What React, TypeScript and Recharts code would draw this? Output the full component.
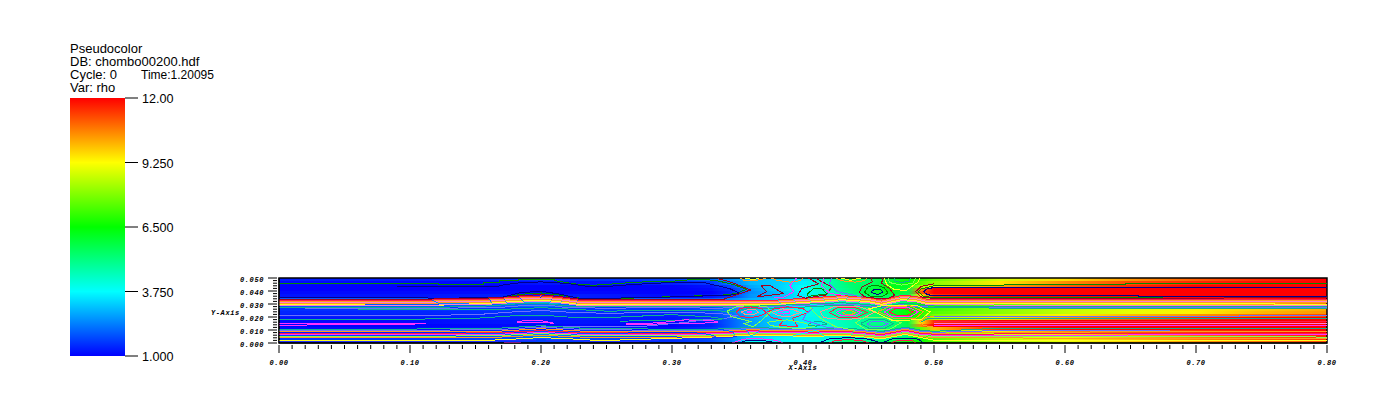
import React from "react";
import { Area, ComposedChart, Line, ReferenceArea, XAxis, YAxis } from "recharts";

type Pt = [number, number];

// ---- field: rho per band (top to bottom) at the columns in rhoX
const rhoX = [0, .1, .17, .2, .23, .3, .33, .345, .36, .38, .4, .42, .435, .45, .465, .48, .49, .5, .55, .6, .65, .7, .75, .8];
const bandEdges = [.05, .0475, .045, .0425, .04, .0375, .035, .0325, .03, .0275, .025, .0225, .02, .0175, .015, .0125, .01, .0075, .005, .0025, 0];
const rho00 = [1.3, 1.3, 1.4, 1.5, 1.5, 1.7, 2.1, 2.6, 3, 3.2, 3.5, 4.6, 5.6, 5.5, 5.8, 6.6, 7, 7.6, 8.8, 9.6, 10.4, 11, 11.6, 12];
const rho01 = [1.1, 1.1, 1.1, 1.2, 1.2, 1.3, 1.6, 2.3, 3, 3.2, 3.6, 4.6, 5.3, 5.4, 6, 6.5, 7.4, 8, 9.5, 10.5, 11.2, 11.6, 11.9, 12];
const rho02 = [1, 1, 1, 1, 1, 1, 1.2, 1.8, 2.8, 3.2, 3.8, 4.7, 5.2, 5.6, 6.3, 6.1, 8.2, 9, 10.2, 11, 11.6, 12, 12, 12];
const rho03 = [1, 1, 1, 1, 1, 1, 1.1, 1.5, 2.6, 3.2, 3.8, 4.6, 5.1, 5.8, 6.4, 5.8, 10.5, 12, 12, 12, 12, 12, 12, 12];
const rho04 = [1.1, 1.1, 1.1, 1, 1.1, 1, 1, 1.4, 2.5, 3, 3.7, 4.4, 5, 5.8, 6.2, 5.7, 11, 12, 12, 12, 12, 12, 12, 12];
const rho05 = [1.2, 1.2, 1.3, 1.3, 1.3, 1.1, 1.2, 1.6, 2.6, 3, 3.6, 4.4, 4.8, 5.4, 5.6, 5.6, 9.5, 11.5, 12, 12, 12, 12, 12, 12];
const rho06 = [2, 2, 2.1, 2.4, 2.1, 2, 2, 2.4, 2.9, 3.2, 3.6, 4.4, 4.5, 5, 5, 5.4, 7, 9.5, 10.5, 11, 11.5, 11.5, 11.8, 12];
const rho07 = [2.4, 2.4, 2.5, 3, 2.5, 2.4, 2.5, 2.8, 3.2, 3.4, 3.8, 4.3, 4.6, 4.8, 4.9, 5.4, 6.6, 7.5, 8, 8.5, 9, 9.5, 10, 10.6];
const rho08 = [1.9, 2, 2, 2.2, 2.1, 2, 2.2, 2.6, 3, 3.3, 3.7, 4.3, 4.6, 4.8, 5, 5.6, 6.5, 7, 7.6, 8.4, 9, 9.6, 10, 10.6];
const rho09 = [1.5, 1.5, 1.6, 1.7, 1.6, 1.5, 1.8, 2.4, 3, 3.4, 3.8, 4.4, 5, 5.2, 5.6, 6.4, 6.8, 7.2, 8, 8.6, 9, 9.4, 9.8, 10.2];
const rho10 = [1.4, 1.4, 1.5, 1.6, 1.5, 1.4, 1.7, 2.3, 3.2, 3.5, 3.8, 4.5, 5.2, 5.3, 5.8, 6.6, 6.9, 7.4, 8, 8.6, 9, 9.4, 10, 10.4];
const rho11 = [1.3, 1.3, 1.4, 1.5, 1.4, 1.3, 1.6, 2.2, 3, 3.3, 3.7, 4.4, 5, 5.1, 5.6, 6.5, 6.9, 7.8, 8.6, 9.4, 10, 10.4, 10.8, 11.2];
const rho12 = [1.2, 1.2, 1.3, 1.3, 1.3, 1.2, 1.5, 2.1, 2.8, 3.2, 3.6, 4.2, 4.7, 4.9, 5.3, 6.1, 7.2, 8.4, 9.6, 10.4, 11, 11.6, 12, 12];
const rho13 = [1.1, 1.1, 1.2, 1.2, 1.2, 1.1, 1.4, 2, 2.7, 3.2, 3.6, 4.2, 4.6, 5, 5, 5.8, 9.5, 11.5, 12, 12, 12, 12, 12, 12];
const rho14 = [1, 1, 1.1, 1.1, 1.1, 1, 1.3, 2, 2.7, 3.2, 3.6, 4.2, 4.6, 5.1, 5.1, 5.7, 10.5, 12, 12, 12, 12, 12, 12, 12];
const rho15 = [1.1, 1.1, 1.2, 1.3, 1.2, 1.1, 1.5, 2.1, 2.8, 3.3, 3.7, 4.2, 4.5, 4.9, 5.2, 5.7, 7.5, 10, 11.6, 12, 12, 12, 12, 12];
const rho16 = [1.3, 1.3, 1.5, 1.9, 1.6, 1.4, 1.7, 2.3, 2.9, 3.3, 3.7, 4.2, 4.5, 4.7, 5, 5.6, 6.8, 8, 9.4, 10.4, 11, 11.4, 11.7, 12];
const rho17 = [1.7, 1.7, 2, 2.4, 2, 1.8, 2, 2.6, 3.1, 3.4, 3.7, 4.1, 4.3, 4.4, 4.8, 5.2, 6.4, 7.6, 8.8, 9.6, 10.2, 10.8, 11.2, 11.6];
const rho18 = [1.6, 1.6, 1.8, 2, 1.8, 1.6, 1.9, 2.5, 3.3, 3.6, 3.9, 4.1, 4.6, 4.5, 5, 5.6, 6.4, 7.4, 8.6, 9.4, 10, 10.6, 11, 11.4];
const rho19 = [1.3, 1.3, 1.5, 1.7, 1.6, 1.5, 1.8, 2.4, 3.8, 3.6, 3.8, 4.2, 5.4, 5, 5.6, 6.6, 6.6, 7.2, 8.2, 9, 9.8, 10.4, 10.8, 11.2];
const rhoBands = [rho00, rho01, rho02, rho03, rho04, rho05, rho06, rho07, rho08, rho09, rho10, rho11, rho12, rho13, rho14, rho15, rho16, rho17, rho18, rho19];

// ---- contour levels, [x, y]
const greenTop: Pt[] = [[0, .0457], [.122, .0457], [.122, .0449], [.156, .0449], [.156, .0464], [.168, .0464], [.168, .048], [.183, .048], [.183, .0492], [.197, .0492], [.21, .0488], [.21, .048], [.225, .0455], [.24, .0444], [.26, .0458], [.272, .0468], [.3, .0475], [.32, .0492], [.334, .048], [.347, .0449], [.357, .0414], [.349, .0381], [.338, .0368], [.296, .0355], [.245, .0337], [.23, .0345], [.215, .0368], [.2, .0385], [.185, .0375], [.17, .0345], [.105, .0337]];
const navyTop: Pt[] = [[.09, .0431], [.165, .0431], [.17, .0445], [.185, .0465], [.2, .047], [.22, .0458], [.235, .0436], [.245, .0431], [.27, .045], [.296, .0464], [.325, .0464], [.344, .0418], [.352, .0381], [.344, .0368], [.296, .0353], [.245, .0343], [.228, .0345], [.215, .0375], [.2, .0398], [.185, .0388], [.17, .0352], [.12, .0343], [.1, .0353], [0, .0353]];
const darkRedTop: Pt[] = [[0, .0336], [.105, .0336], [.17, .0348], [.185, .0365], [.2, .0372], [.215, .0356], [.23, .0336], [.296, .0338], [.34, .0338], [.36, .0408], [.345, .0468], [.335, .0495]];
const bundle1: Pt[] = [[0, .0328], [.1, .0328], [.16, .0338], [.18, .0352], [.2, .0362], [.215, .0348], [.23, .0328], [.3, .0328], [.34, .0326], [.38, .033], [.41, .035], [.43, .0365], [.45, .035], [.46, .033], [.475, .0365], [.485, .036], [.495, .0335], [.55, .0338], [.8, .0338]];
const bundle2: Pt[] = [[0, .032], [.1, .032], [.16, .033], [.18, .0344], [.2, .0354], [.215, .034], [.23, .032], [.3, .032], [.34, .0318], [.38, .0322], [.41, .0342], [.43, .0357], [.45, .0342], [.46, .0322], [.475, .0357], [.485, .0352], [.495, .0327], [.55, .033], [.667, .033], [.667, .0325], [.8, .0325]];
const bundle3: Pt[] = [[0, .0312], [.1, .0312], [.16, .0322], [.18, .0336], [.2, .0346], [.215, .0332], [.23, .0312], [.3, .0312], [.34, .031], [.38, .0314], [.41, .0334], [.43, .0349], [.45, .0334], [.46, .0314], [.475, .0349], [.485, .0344], [.495, .0319], [.55, .0318], [.8, .0318]];
const bundle4: Pt[] = [[0, .0304], [.1, .0304], [.16, .0314], [.18, .0328], [.2, .0338], [.215, .0324], [.23, .0304], [.3, .0304], [.34, .0302], [.38, .0306], [.41, .0326], [.43, .0341], [.45, .0326], [.46, .0306], [.475, .0341], [.485, .0336], [.495, .0311], [.55, .0312], [.8, .0312]];
const bundle5: Pt[] = [[0, .0297], [.065, .0297], [.065, .0292], [.125, .0292], [.16, .0306], [.18, .032], [.2, .033], [.215, .0316], [.23, .0296], [.3, .0296], [.34, .0294], [.38, .0298], [.41, .0318], [.43, .0333], [.45, .0318], [.46, .0298], [.475, .0333], [.485, .0328], [.495, .0303], [.55, .0302], [.76, .0302], [.76, .0296], [.8, .0296]];
const bundle6: Pt[] = [[0, .0288], [.095, .0288], [.16, .0298], [.18, .0312], [.2, .0322], [.215, .0308], [.23, .0288], [.3, .0288], [.34, .0286], [.38, .029], [.41, .031], [.43, .0325], [.45, .031], [.46, .029], [.475, .0325], [.485, .032], [.495, .0295], [.55, .0292], [.8, .0292]];
const teal1: Pt[] = [[0, .0274], [.12, .0274], [.16, .0285], [.18, .03], [.2, .0306], [.22, .0285], [.24, .028], [.3, .0282], [.34, .028], [.37, .0285], [.41, .0302], [.43, .031], [.45, .0295], [.46, .0278], [.475, .0305], [.485, .03], [.495, .0285], [.55, .028], [.8, .0282]];
const peri1: Pt[] = [[.02, .0268], [.13, .0268], [.17, .0275], [.19, .029], [.205, .0292], [.22, .0272], [.25, .0268], [.3, .0272], [.33, .0268], [.36, .0272], [.41, .0292], [.43, .03], [.45, .0286], [.46, .0272], [.475, .0295], [.49, .0278], [.52, .0272], [.8, .0272]];
const teal2: Pt[] = [[.06, .0255], [.145, .0255], [.18, .0262], [.2, .0272], [.22, .0262], [.25, .0245], [.3, .0252], [.335, .0248], [.345, .024], [.36, .0268], [.39, .027], [.41, .0282], [.43, .029], [.45, .0278], [.465, .0265], [.475, .0285], [.49, .027], [.612, .0268], [.612, .0262], [.8, .0262]];
const peri2: Pt[] = [[0, .0211], [.1, .0211], [.15, .0218], [.18, .024], [.2, .025], [.22, .0238], [.25, .0228], [.3, .0238], [.335, .0228], [.35, .021], [.34, .0188]];
const teal3: Pt[] = [[0, .0183], [.1, .0183], [.15, .019], [.18, .021], [.2, .0215], [.22, .02], [.25, .0195], [.3, .0218], [.33, .02], [.34, .0185], [.3, .0175], [.26, .0168]];
const pinkLeftA: Pt[] = [[0, .0153], [.09, .0153], [.09, .0148], [.112, .0148], [.09, .0143], [.0, .0137]];
const pinkLeftB: Pt[] = [[.182, .0165], [.19, .0175], [.2, .0172], [.21, .0152], [.2, .0158], [.182, .0158], [.182, .0165]];
const pinkLeftC: Pt[] = [[.265, .0148], [.29, .0155], [.31, .0178], [.335, .0168], [.335, .0155], [.31, .0152], [.285, .0145], [.265, .0145]];
const periLeft: Pt[] = [[.2, .0125], [.24, .0125], [.28, .013], [.31, .0158], [.33, .0185]];
const bottomA: Pt[] = [[0, .0107], [.1, .0107], [.17, .0115], [.2, .0133], [.23, .0115], [.3, .0105], [.34, .0108], [.36, .012], [.39, .011], [.41, .0108], [.43, .0115], [.445, .0105], [.46, .0088], [.478, .0122], [.49, .0098], [.5, .009], [.55, .0114], [.638, .0114], [.638, .0108], [.8, .0108]];
const bottomB: Pt[] = [[0, .0096], [.1, .0096], [.17, .0105], [.2, .0122], [.23, .0105], [.3, .0096], [.34, .01], [.36, .0112], [.39, .0102], [.41, .01], [.43, .0106], [.445, .0096], [.46, .008], [.478, .0114], [.49, .009], [.5, .0082], [.55, .0096], [.68, .0096], [.68, .0092], [.8, .0092]];
const bottomC: Pt[] = [[0, .0085], [.095, .0085], [.17, .0092], [.2, .011], [.23, .0092], [.3, .0085], [.34, .009], [.36, .0102], [.39, .0094], [.41, .0092], [.43, .0098], [.445, .0088], [.46, .0072], [.478, .0106], [.49, .0082], [.5, .0076], [.68, .0089], [.8, .0086]];
const bottomD: Pt[] = [[0, .0072], [.1, .0072], [.17, .008], [.2, .0095], [.23, .008], [.3, .0074], [.34, .008], [.36, .0094], [.39, .0086], [.41, .0084], [.43, .009], [.445, .008], [.46, .0064], [.478, .0098], [.49, .0074], [.5, .0068], [.8, .0076]];
const bottomE: Pt[] = [[0, .0062], [.12, .0062], [.17, .0068], [.2, .0082], [.23, .0068], [.3, .0064], [.34, .0072], [.36, .0086], [.39, .0078], [.41, .0076], [.43, .0082], [.445, .0072], [.46, .0056], [.478, .009], [.49, .0066], [.5, .006], [.8, .0063]];
const bottomF: Pt[] = [[0, .0052], [.12, .0052], [.17, .0058], [.2, .0072], [.23, .0058], [.3, .0054], [.34, .0064], [.36, .0078], [.39, .007], [.41, .0068], [.43, .0074], [.445, .0064], [.46, .0048], [.478, .0082], [.49, .0058], [.5, .005], [.8, .0046]];
const bottomG: Pt[] = [[0, .004], [.14, .004], [.17, .0046], [.2, .006], [.23, .0046], [.3, .0045], [.34, .0056], [.36, .007], [.39, .0062], [.41, .006], [.43, .0066], [.445, .0056], [.46, .004], [.478, .0074], [.49, .005], [.5, .004], [.8, .0033]];
const bottomH: Pt[] = [[0, .0023], [.14, .0023], [.14, .0018], [.17, .0024], [.2, .0042], [.23, .0028], [.245, .0018], [.3, .0036], [.34, .0048], [.36, .0062], [.39, .0054], [.41, .0052], [.43, .0058], [.445, .0048], [.46, .0032], [.478, .0066], [.49, .0042], [.5, .0022], [.8, .0018]];
const magentaLow: Pt[] = [[.172, .0004], [.185, .0004]];
const blueLow: Pt[] = [[0, .0008], [.14, .0008], [.2, .0024], [.26, .0008], [.3, .0028], [.335, .004], [.35, .0048]];

const rightPeri: Pt[] = [[.495, .0203], [.733, .0203], [.733, .0211], [.8, .0211]];
const rightTeal: Pt[] = [[.492, .0205], [.49, .016], [.495, .0185], [.8, .0185]];
const rightRed: Pt[] = [[.5, .0165], [.8, .0165]];
const rightPink: Pt[] = [[.5, .015], [.8, .015]];
const rightMagenta: Pt[] = [[.5, .0135], [.8, .0135]];
const rightNavy: Pt[] = [[.8, .0426], [.5, .0426], [.495, .0418], [.492, .0395], [.495, .0372], [.5, .0363], [.656, .0363], [.656, .0355], [.8, .0355]];
const rightGreen: Pt[] = [[.8, .0457], [.646, .0457], [.646, .0449], [.52, .0445], [.5, .044], [.49, .0415], [.488, .0395], [.492, .036], [.5, .0348], [.675, .0348]];
const rightDarkRed: Pt[] = [[.5, .0455], [.49, .0435], [.486, .0395], [.49, .0355], [.5, .0342], [.675, .0345], [.8, .0348]];
const rightLoopLow: Pt[] = [[.5, .0205], [.492, .019], [.489, .0165], [.492, .0135], [.5, .0122]];

const blobRed1: Pt[] = [[.349, .0235], [.352, .0265], [.36, .0278], [.368, .0265], [.372, .0235], [.368, .021], [.36, .0195], [.352, .0205], [.349, .0235]];
const blobPink1: Pt[] = [[.353, .0238], [.358, .0258], [.364, .0255], [.366, .0235], [.362, .0218], [.356, .0218], [.353, .0238]];
const blobMag1: Pt[] = [[.357, .0238], [.36, .0242], [.361, .0238], [.359, .0232], [.357, .0238]];
const blobLime1: Pt[] = [[.342, .0245], [.35, .0282], [.362, .0288], [.372, .028], [.376, .0245], [.368, .017], [.362, .0125], [.355, .015], [.36, .0165], [.345, .0205], [.342, .0245]];
const blobRed2: Pt[] = [[.372, .0235], [.378, .0262], [.388, .0278], [.4, .0265], [.404, .0235], [.392, .019], [.396, .0125], [.382, .0135], [.385, .0175], [.376, .0195], [.372, .0235]];
const blobPink2: Pt[] = [[.376, .0235], [.384, .0262], [.392, .0258], [.398, .0235], [.39, .0205], [.382, .0208], [.376, .0235]];
const blobMag2: Pt[] = [[.381, .0235], [.386, .025], [.39, .0245], [.39, .023], [.385, .0222], [.381, .0235]];
const blobTeal3: Pt[] = [[.373, .016], [.38, .017], [.388, .0178], [.4, .0155], [.41, .0128], [.4, .0112], [.385, .0118], [.375, .0135], [.373, .016]];
const blobPeri3: Pt[] = [[.405, .0152], [.41, .0165], [.416, .016], [.418, .0145], [.41, .013], [.404, .0138], [.405, .0152]];
const blobOrange4: Pt[] = [[.43, .0232], [.433, .0248], [.437, .0248], [.44, .0232], [.437, .022], [.433, .022], [.43, .0232]];
const blobMag4: Pt[] = [[.425, .0235], [.43, .026], [.438, .026], [.444, .0235], [.44, .0212], [.43, .0208], [.425, .0235]];
const blobRed4: Pt[] = [[.42, .0235], [.426, .027], [.44, .0272], [.449, .0235], [.442, .02], [.428, .0195], [.42, .0235]];
const blobSalmon4: Pt[] = [[.413, .024], [.424, .028], [.442, .0282], [.455, .024], [.446, .019], [.43, .018], [.416, .0195], [.413, .024]];
const blobPeri5: Pt[] = [[.449, .0148], [.453, .0168], [.46, .0168], [.465, .0148], [.46, .0125], [.453, .0125], [.449, .0148]];
const blobTeal5: Pt[] = [[.444, .015], [.45, .018], [.462, .018], [.469, .015], [.463, .0115], [.45, .0115], [.444, .015]];
const blobLime5: Pt[] = [[.44, .0155], [.446, .0195], [.464, .0195], [.475, .0155], [.466, .0105], [.448, .0105], [.44, .0155]];
const blobRed6: Pt[] = [[.466, .0238], [.47, .0262], [.478, .0265], [.484, .024], [.48, .0212], [.472, .021], [.466, .0238]];
const blobMag6: Pt[] = [[.462, .024], [.468, .0272], [.48, .0275], [.488, .024], [.482, .0202], [.468, .02], [.462, .024]];
const blobOrange6: Pt[] = [[.457, .024], [.466, .0282], [.482, .0285], [.492, .024], [.486, .019], [.47, .0188], [.457, .024]];
const blobLime6: Pt[] = [[.45, .0262], [.462, .029], [.486, .0292], [.497, .024], [.49, .0178], [.468, .0175], [.45, .0262]];
const navyF: Pt[] = [[.452, .0395], [.455, .0415], [.459, .0415], [.461, .0395], [.458, .0375], [.454, .0378], [.452, .0395]];
const greenF: Pt[] = [[.447, .039], [.45, .0435], [.456, .0445], [.462, .0425], [.465, .0385], [.46, .0355], [.452, .0355], [.447, .039]];
const darkRedF: Pt[] = [[.452, .05], [.453, .047], [.445, .043], [.443, .039], [.447, .0355], [.455, .0345], [.464, .034], [.47, .0365], [.466, .042], [.46, .046], [.461, .05]];
const darkRedTri: Pt[] = [[.368, .0442], [.372, .0395], [.365, .0355], [.385, .038], [.375, .0442], [.368, .0442]];
const darkRedCross: Pt[] = [[.404, .05], [.412, .0455], [.399, .0418], [.396, .0365], [.402, .0345], [.418, .037], [.422, .0432], [.41, .0495]];
const greenCross: Pt[] = [[.403, .0372], [.408, .042], [.415, .0415], [.418, .0378], [.404, .0358], [.403, .0372]];
const arcTopA: Pt[] = [[.352, .05], [.355, .0482], [.362, .0478], [.368, .0488], [.372, .05]];
const arcTopB: Pt[] = [[.356, .05], [.36, .0492], [.364, .0492], [.366, .05]];
const arcTopC: Pt[] = [[.376, .05], [.38, .0482], [.39, .0468], [.398, .048], [.4, .05]];
const arcTopD: Pt[] = [[.425, .05], [.43, .0478], [.44, .0468], [.447, .048], [.449, .05]];
const arcTopE: Pt[] = [[.429, .05], [.436, .0482], [.444, .05]];
const arcG1: Pt[] = [[.47, .05], [.47, .0478], [.475, .0465], [.481, .0475], [.482, .05]];
const arcG2: Pt[] = [[.465, .05], [.466, .0465], [.475, .0445], [.484, .046], [.486, .05]];
const arcG3: Pt[] = [[.462, .05], [.464, .045], [.47, .041], [.479, .0405], [.488, .047], [.489, .05]];
const arcS1: Pt[] = [[.422, .05], [.42, .0455], [.426, .0395], [.44, .0365], [.445, .0352]];
const arcS2: Pt[] = [[.416, .05], [.414, .044], [.421, .038], [.432, .0365]];
const arcS3: Pt[] = [[.395, .05], [.39, .044], [.393, .0395], [.385, .035], [.378, .0352]];
const arcS4: Pt[] = [[.405, .028], [.41, .022], [.415, .018], [.425, .0125], [.44, .0098]];
const arcS5: Pt[] = [[.408, .0272], [.402, .022], [.4, .018], [.418, .0122], [.43, .0108]];
const arcBotA: Pt[] = [[.352, 0], [.355, .0015], [.365, .0022], [.375, .0012], [.378, 0]];
const arcBotB: Pt[] = [[.346, 0], [.355, .003], [.365, .0035], [.38, .002], [.385, 0]];
const arcBotC: Pt[] = [[.42, 0], [.425, .002], [.435, .0026], [.445, .0018], [.45, 0]];
const arcBotD: Pt[] = [[.412, 0], [.42, .0032], [.435, .0042], [.45, .003], [.46, 0]];
const arcBotE: Pt[] = [[.467, 0], [.472, .0018], [.478, .0022], [.484, .0015], [.486, 0]];
const arcBotF: Pt[] = [[.46, 0], [.468, .0032], [.478, .0038], [.488, .003], [.492, 0]];

const NAVY = "#00008b", DKGREEN = "#008a00", DKRED = "#a00020", RED = "#ff1a4a", ORANGE = "#ff9a20", PINK = "#ff80d0";
const MAGENTA = "#ff30ff", YELLOW = "#ffff20", TEAL = "#10b090", PERI = "#6a70ff", LIME = "#80ff50", SALMON = "#ff9090";

const contours: { pts: Pt[]; color: string }[] = [
  { pts: greenTop, color: DKGREEN }, { pts: navyTop, color: NAVY }, { pts: darkRedTop, color: DKRED },
  { pts: bundle1, color: RED }, { pts: bundle2, color: ORANGE }, { pts: bundle3, color: PINK }, { pts: bundle4, color: ORANGE },
  { pts: bundle5, color: YELLOW }, { pts: bundle6, color: PINK }, { pts: teal1, color: TEAL }, { pts: peri1, color: PERI }, { pts: teal2, color: TEAL },
  { pts: peri2, color: PERI }, { pts: teal3, color: TEAL }, { pts: pinkLeftA, color: MAGENTA }, { pts: pinkLeftB, color: MAGENTA }, { pts: pinkLeftC, color: MAGENTA }, { pts: periLeft, color: PERI },
  { pts: bottomA, color: TEAL }, { pts: bottomB, color: PERI }, { pts: bottomC, color: ORANGE }, { pts: bottomD, color: RED }, { pts: bottomE, color: MAGENTA }, { pts: bottomF, color: LIME },
  { pts: bottomG, color: ORANGE }, { pts: bottomH, color: YELLOW }, { pts: magentaLow, color: MAGENTA }, { pts: blueLow, color: "#2030ff" },
  { pts: rightPeri, color: PERI }, { pts: rightTeal, color: TEAL }, { pts: rightRed, color: RED }, { pts: rightPink, color: PINK }, { pts: rightMagenta, color: MAGENTA },
  { pts: rightNavy, color: NAVY }, { pts: rightGreen, color: DKGREEN }, { pts: rightDarkRed, color: DKRED }, { pts: rightLoopLow, color: ORANGE },
  { pts: blobLime1, color: LIME }, { pts: blobRed1, color: RED }, { pts: blobPink1, color: SALMON }, { pts: blobMag1, color: MAGENTA },
  { pts: blobRed2, color: RED }, { pts: blobPink2, color: SALMON }, { pts: blobMag2, color: MAGENTA }, { pts: blobTeal3, color: LIME }, { pts: blobPeri3, color: TEAL },
  { pts: blobSalmon4, color: SALMON }, { pts: blobRed4, color: RED }, { pts: blobMag4, color: MAGENTA }, { pts: blobOrange4, color: ORANGE },
  { pts: blobLime5, color: LIME }, { pts: blobTeal5, color: TEAL }, { pts: blobPeri5, color: PERI },
  { pts: blobLime6, color: YELLOW }, { pts: blobOrange6, color: ORANGE }, { pts: blobMag6, color: MAGENTA }, { pts: blobRed6, color: RED },
  { pts: darkRedF, color: DKRED }, { pts: greenF, color: DKGREEN }, { pts: navyF, color: NAVY },
  { pts: darkRedTri, color: DKRED }, { pts: darkRedCross, color: DKRED }, { pts: greenCross, color: DKGREEN },
  { pts: arcTopA, color: ORANGE }, { pts: arcTopB, color: YELLOW }, { pts: arcTopC, color: ORANGE }, { pts: arcTopD, color: ORANGE }, { pts: arcTopE, color: YELLOW },
  { pts: arcG1, color: TEAL }, { pts: arcG2, color: LIME }, { pts: arcG3, color: YELLOW }, { pts: arcS1, color: PERI }, { pts: arcS2, color: MAGENTA },
  { pts: arcS3, color: MAGENTA }, { pts: arcS4, color: LIME }, { pts: arcS5, color: PERI },
  { pts: arcBotA, color: NAVY }, { pts: arcBotB, color: MAGENTA }, { pts: arcBotC, color: RED }, { pts: arcBotD, color: NAVY }, { pts: arcBotE, color: RED }, { pts: arcBotF, color: NAVY },
];

// ---- axes and legend
const xTicks = [0, .01, .02, .03, .04, .05, .06, .07, .08, .09, .1, .11, .12, .13, .14, .15, .16, .17, .18, .19, .2, .21, .22, .23, .24, .25, .26, .27, .28, .29, .3, .31, .32, .33, .34, .35, .36, .37, .38, .39, .4, .41, .42, .43, .44, .45, .46, .47, .48, .49, .5, .51, .52, .53, .54, .55, .56, .57, .58, .59, .6, .61, .62, .63, .64, .65, .66, .67, .68, .69, .7, .71, .72, .73, .74, .75, .76, .77, .78, .79, .8];
const yTicks = [0, .002, .004, .006, .008, .01, .012, .014, .016, .018, .02, .022, .024, .026, .028, .03, .032, .034, .036, .038, .04, .042, .044, .046, .048, .05];
const legendTicks = [1, 3.75, 6.5, 9.25, 12];
const legendLabels = ["1.000", "3.750", "6.500", "9.250", "12.00"];
const infoLines = ["Pseudocolor", "DB: chombo00200.hdf", "Cycle: 0", "Var: rho"];
const timeLabel = "Time:1.20095";

const ramp = [
  [1, 0, 0, 255],
  [3.75, 0, 255, 255],
  [6.5, 0, 255, 0],
  [9.25, 255, 255, 0],
  [12, 255, 0, 0],
];

function rhoColor(v: number) {
  for (let i = 0; i < ramp.length - 1; i++) {
    const a = ramp[i], b = ramp[i + 1];
    if (v <= b[0]) {
      const t = (v - a[0]) / (b[0] - a[0]);
      return `rgb(${Math.round(a[1] + (b[1] - a[1]) * t)},${Math.round(a[2] + (b[2] - a[2]) * t)},${Math.round(a[3] + (b[3] - a[3]) * t)})`;
    }
  }
  return "rgb(255,0,0)";
}

const AXIS_FONT: React.CSSProperties = { fontFamily: "'Liberation Mono'", fontWeight: 700, fontStyle: "italic", fontSize: 7, letterSpacing: 0.6 };
const INFO_FONT = "13px/14px 'Liberation Sans'";

function XTick({ x, y, payload }: any) {
  const major = Math.round(payload.value * 1000) % 100 === 0;
  return (
    <g>
      <line x1={x} x2={x} y1={y} y2={y + (major ? 8 : 4)} stroke="#000" />
      {major && <text x={x} y={y + 19.5} textAnchor="middle" fill="#000" style={AXIS_FONT}>{payload.value.toFixed(2)}</text>}
    </g>
  );
}

function YTick({ x, y, payload }: any) {
  const major = Math.round(payload.value * 1000) % 10 === 0;
  return (
    <g>
      <line x1={x} x2={x - (major ? 9 : 4)} y1={y} y2={y} stroke="#000" />
      {major && <text x={x - 13} y={y + 3.5} textAnchor="end" fill="#000" style={AXIS_FONT}>{payload.value.toFixed(3)}</text>}
    </g>
  );
}

function Field() {
  return (
    <ComposedChart width={1398} height={404} margin={{ top: 278, right: 71, bottom: 0, left: 0 }}>
      <defs>
        {rhoBands.map((band, i) => (
          <linearGradient key={i} id={`band${i}`} x1="0" x2="1" y1="0" y2="0">
            {band.map((v, j) => <stop key={j} offset={rhoX[j] / .8} stopColor={rhoColor(v)} />)}
          </linearGradient>
        ))}
      </defs>
      <XAxis type="number" dataKey="x" domain={[0, .8]} ticks={xTicks} interval={0} height={61} tickLine={false} axisLine={{ stroke: "#000" }} tick={<XTick />} tickSize={0} allowDataOverflow
        label={{ value: "X-Axis", position: "insideBottom", offset: 34, fill: "#000", style: AXIS_FONT }} />
      <YAxis type="number" domain={[0, .05]} ticks={yTicks} interval={0} width={279} tickLine={false} axisLine={{ stroke: "#000" }} tick={<YTick />} tickSize={0} allowDataOverflow
        label={{ value: "Y-Axis", position: "insideLeft", offset: 211, dy: 2, fill: "#000", style: AXIS_FONT }} />
      {rhoBands.map((_, i) => (
        <Area key={i} data={[{ x: 0, b: [bandEdges[i + 1], bandEdges[i]] }, { x: .8, b: [bandEdges[i + 1], bandEdges[i]] }]} dataKey="b" type="linear" stroke="none" fill={`url(#band${i})`} fillOpacity={1} dot={false} activeDot={false} isAnimationActive={false} />
      ))}
      {contours.map((c, i) => (
        <Line key={i} data={c.pts.map(([x, y]) => ({ x, y }))} dataKey="y" type="linear" stroke={c.color} strokeWidth={1} dot={false} activeDot={false} isAnimationActive={false} />
      ))}
      <ReferenceArea x1={0} x2={.8} y1={0} y2={.05} fill="none" stroke="#000" strokeWidth={1.5} ifOverflow="visible" />
    </ComposedChart>
  );
}

function ColorBar() {
  return (
    <ComposedChart width={200} height={404} margin={{ top: 98, right: 0, bottom: 48, left: 70 }}>
      <defs>
        <linearGradient id="barFill" x1="0" x2="0" y1="1" y2="0">
          {legendTicks.map(v => <stop key={v} offset={(v - 1) / 11} stopColor={rhoColor(v)} />)}
        </linearGradient>
      </defs>
      <XAxis type="number" dataKey="x" domain={[0, 1]} hide />
      <YAxis orientation="right" type="number" domain={[1, 12]} ticks={legendTicks} interval={0} width={75} axisLine={false} tickSize={13} tickMargin={4} tickLine={{ stroke: "#000" }}
        tickFormatter={(v: number) => legendLabels[legendTicks.indexOf(v)]} tick={{ fill: "#000", fontSize: 12.6, dy: 1, fontFamily: "'Liberation Sans'", textAnchor: "start" }} />
      <Area data={[{ x: 0, b: [1, 12] }, { x: 1, b: [1, 12] }]} dataKey="b" type="linear" stroke="none" fill="url(#barFill)" fillOpacity={1} dot={false} activeDot={false} isAnimationActive={false} />
    </ComposedChart>
  );
}

export default function App() {
  return (
    <div style={{ position: "absolute", left: 0, top: 0, width: 1398, height: 404, background: "#fff", overflow: "hidden" }}>
      <style>{`.recharts-area-area{shape-rendering:crispEdges}.recharts-line-curve{shape-rendering:crispEdges}`}</style>
      <div style={{ position: "absolute", left: 0, top: 0 }}><Field /></div>
      <div style={{ position: "absolute", left: 0, top: 0 }}><ColorBar /></div>
      {infoLines.map((t, i) => (
        <div key={t} style={{ position: "absolute", left: 70, top: 42 + i * 13, font: INFO_FONT, color: "#000", whiteSpace: "nowrap" }}>{t}</div>
      ))}
      <div style={{ position: "absolute", left: 141, top: 68, font: "12px/14px 'Liberation Sans'", color: "#000", whiteSpace: "nowrap" }}>{timeLabel}</div>
    </div>
  );
}
